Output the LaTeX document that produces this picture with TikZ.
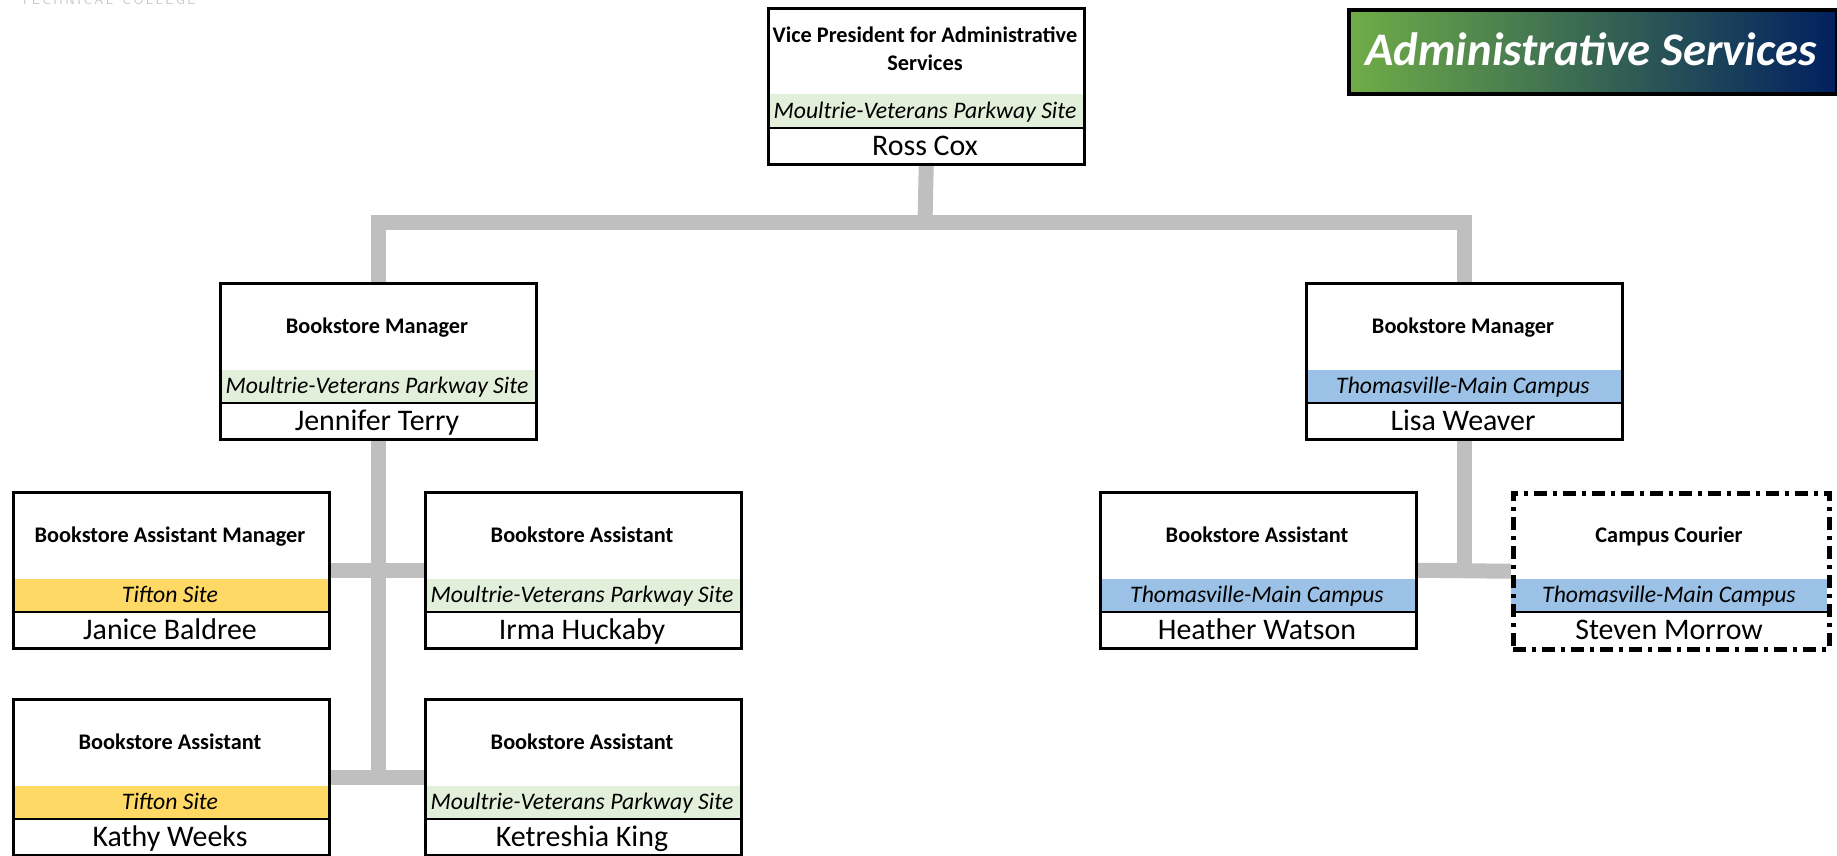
\documentclass[tikz,border=0pt]{standalone}
\usepackage{fontspec}
\setmainfont{Carlito}
\usetikzlibrary{backgrounds}
\definecolor{sitegreen}{HTML}{E2EFDA}
\definecolor{siteyellow}{HTML}{FFD966}
\definecolor{siteblue}{HTML}{9BC2E6}
\definecolor{conngray}{HTML}{BFBFBF}
\definecolor{titlegreen}{HTML}{70AD47}
\definecolor{titlenavy}{HTML}{002060}
\definecolor{logogray}{HTML}{C8C8C8}

% #1 name, #2 x, #3 y, #4 role, #5 site, #6 band colour, #7 person, #8 extra border style
\newcommand{\orgbox}[8]{%
  \fill[#6] (#2,#3+88) rectangle (#2+316,#3+121);
  \draw[divider] (#2,#3+121) -- (#2+316,#3+121);
  \node[boxshape,#8,anchor=north west] (#1) at (#2,#3) {};
  \node[roletext,anchor=base] (#1-role) at (#2+158,#3+51) {#4};
  \node[sitetext,anchor=base] (#1-site) at (#2+158,#3+111) {#5};
  \node[nametext,anchor=base] (#1-name) at (#2+158,#3+148) {#7};
}

\begin{document}
\begin{tikzpicture}[x=1pt,y=-1pt,
  boxshape/.style={draw=black, line width=2.5pt, minimum width=316pt, minimum height=156pt, inner sep=0pt},
  dashdotbox/.style={line width=4.5pt, dash pattern=on 13pt off 6pt on 4pt off 6pt},
  divider/.style={draw=black, line width=2.5pt},
  roletext/.style={font=\fontsize{22.3}{28}\selectfont\bfseries, align=center, inner sep=0pt},
  sitetext/.style={font=\fontsize{23.7}{27}\selectfont\itshape, inner sep=0pt},
  nametext/.style={font=\fontsize{29.9}{33}\selectfont, inner sep=0pt},
  conn/.style={draw=conngray, line width=15pt},
  titlebox/.style={draw=black, line width=4pt, left color=titlegreen, right color=titlenavy,
    minimum width=488pt, minimum height=84pt, inner sep=0pt},
  titletext/.style={text=white, font=\fontsize{46.7}{50}\selectfont\bfseries\itshape, inner sep=0pt},
  logotext/.style={text=logogray, font=\fontsize{14}{16}\selectfont\sffamily, inner sep=0pt}
  ]
\useasboundingbox (0,0) rectangle (1837,855);

\node[logotext,anchor=base west] (logo) at (20,4) {T\,E\,C\,H\,N\,I\,C\,A\,L\ \ C\,O\,L\,L\,E\,G\,E};

\node[titlebox,anchor=north west] (title) at (1347,8) {};
\node[titletext,anchor=base] (title-text) at (1591,65) {Administrative Services};

% VP box
\fill[sitegreen] (767,94) rectangle (1083,128);
\draw[divider] (767,128) -- (1083,128);
\node[boxshape,anchor=north west] (vp) at (767,7) {};
\node[roletext] (vp-role) at (925,49) {Vice President for Administrative\\Services};
\node[sitetext,anchor=base] (vp-site) at (925,118) {Moultrie-Veterans Parkway Site};
\node[nametext,anchor=base] (vp-name) at (925,155) {Ross Cox};

\orgbox{lm}{219}{282}{Bookstore Manager}{Moultrie-Veterans Parkway Site}{sitegreen}{Jennifer Terry}{}
\orgbox{rm}{1305}{282}{Bookstore Manager}{Thomasville-Main Campus}{siteblue}{Lisa Weaver}{}
\orgbox{janice}{12}{491}{Bookstore Assistant Manager}{Tifton Site}{siteyellow}{Janice Baldree}{}
\orgbox{irma}{424}{491}{Bookstore Assistant}{Moultrie-Veterans Parkway Site}{sitegreen}{Irma Huckaby}{}
\orgbox{kathy}{12}{698}{Bookstore Assistant}{Tifton Site}{siteyellow}{Kathy Weeks}{}
\orgbox{ketreshia}{424}{698}{Bookstore Assistant}{Moultrie-Veterans Parkway Site}{sitegreen}{Ketreshia King}{}
\orgbox{heather}{1099}{491}{Bookstore Assistant}{Thomasville-Main Campus}{siteblue}{Heather Watson}{}
\orgbox{steven}{1511}{491}{Campus Courier}{Thomasville-Main Campus}{siteblue}{Steven Morrow}{dashdotbox}

\coordinate (bus) at (925,222);

\begin{pgfonlayer}{background}
  \draw[conn] (vp.south) -- (bus);
  \draw[conn, line join=miter] (lm.north) -- (lm.north |- bus) -- (rm.north |- bus) -- (rm.north);
  \draw[conn] (lm.south) -- (lm.south |- kathy.east);
  \draw[conn] (janice.east) -- (irma.west);
  \draw[conn] (kathy.east) -- (ketreshia.west);
  \draw[conn] (rm.south) -- (rm.south |- heather.east);
  \draw[conn] (heather.east) -- (steven.west);
\end{pgfonlayer}
\end{tikzpicture}
\end{document}
